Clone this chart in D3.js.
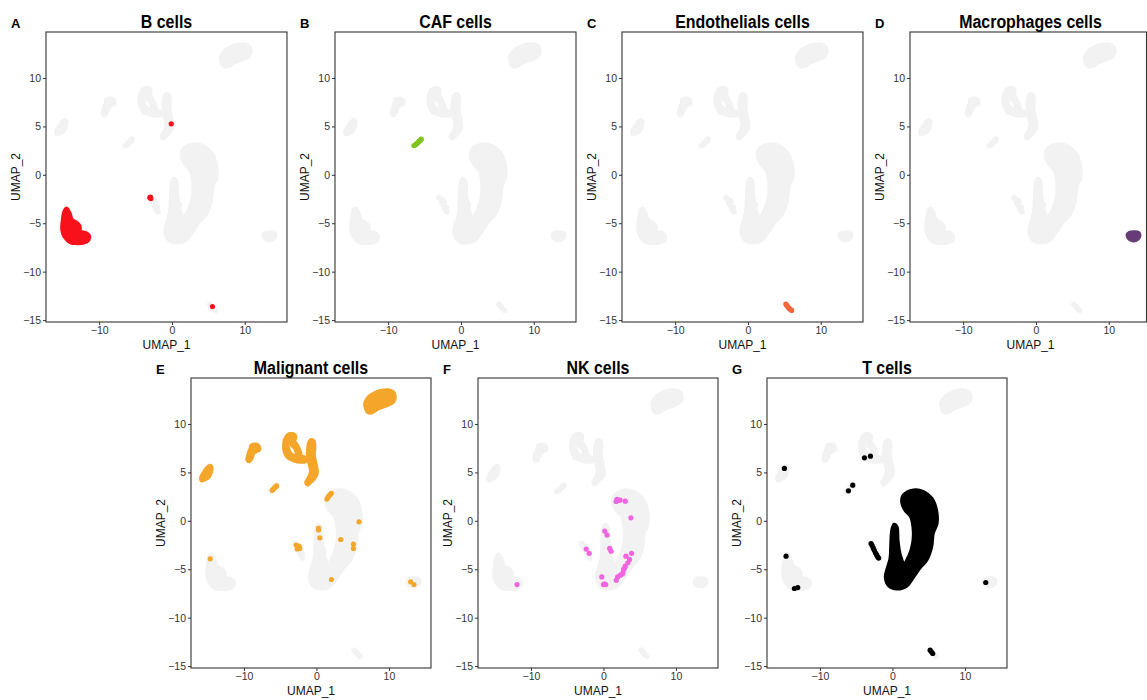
<!DOCTYPE html>
<html><head><meta charset="utf-8">
<script src="https://cdn.jsdelivr.net/npm/d3@7"></script>
<style>body{margin:0;background:#fff}</style></head>
<body>
<svg id="chart" width="1147" height="700"></svg>
<script>
// ---------- data (UMAP coordinates) ----------
const cellTypes = ["B cells","CAF cells","Endothelials cells","Macrophages cells","Malignant cells","NK cells","T cells"];
const panelLabels = ["A","B","C","D","E","F","G"];
const xTicks = [-10, 0, 10];
const yTicks = [-15, -10, -5, 0, 5, 10];
const xDomain = [-17.3, 15.8];
const yDomain = [-15.2, 14.75];

// dense regions (outlines of many overlapping cells)
const bCellBlobs = [
  [[-14.48,-3.44],[-14.02,-3.96],[-13.7,-4.65],[-13.02,-4.96],[-12.65,-5.3],[-12.56,-5.85],[-11.88,-5.96],[-11.35,-6.3],[-11.45,-6.75],[-12.1,-7.02],[-13.02,-7.08],[-13.93,-7.0],[-14.8,-6.37],[-15.1,-5.68],[-15.02,-4.65],[-14.8,-3.79]]
];
const bCellPoints = [[-0.1,5.27],[-3.05,-2.35],[-2.9,-2.45],[-2.95,-2.3],[5.56,-13.6]];

const cafBlobs = [];
const cafPoints = [[-6.45,3.02],[-6.3,3.08],[-6.15,3.18],[-6.0,3.28],[-5.85,3.38],[-5.7,3.5],[-5.55,3.6],[-5.45,3.68]];

const endoBlobs = [];
const endoPoints = [[5.2,-13.35],[5.3,-13.45],[5.4,-13.55],[5.55,-13.7],[5.7,-13.82],[5.85,-13.92],[6.0,-14.0]];

const macroBlobs = [
  [[12.55,-6.2],[12.9,-5.95],[13.5,-5.9],[14.05,-5.95],[14.25,-6.2],[14.1,-6.55],[13.6,-6.8],[13.1,-6.75],[12.65,-6.5]]
];
const macroPoints = [];

const malignantBlobs = [
  [[6.7,12.2],[7.2,12.8],[8.0,13.2],[9.0,13.45],[9.9,13.5],[10.6,13.3],[10.85,12.8],[10.6,12.25],[9.5,11.85],[8.5,11.55],[7.5,11.15],[7.0,11.25],[6.75,11.7]],
  [[-15.95,4.44],[-15.65,4.89],[-15.2,5.41],[-14.78,5.7],[-14.48,5.62],[-14.5,5.06],[-14.8,4.55],[-15.45,4.22],[-15.88,4.15]],
  [[-9.0,7.8],[-8.36,7.9],[-7.95,7.72],[-7.88,7.32],[-8.36,7.13],[-8.68,6.96],[-8.91,6.44],[-9.25,6.12],[-9.55,6.3],[-9.38,6.96],[-9.12,7.47]],
  [[-2.98,8.88],[-3.76,8.98],[-4.32,8.5],[-4.5,7.82],[-4.42,7.13],[-3.97,6.53],[-3.08,6.2],[-2.16,6.07],[-1.5,6.13],[-1.3,6.44],[-1.7,6.61],[-2.62,6.61],[-3.54,6.96],[-3.86,7.47],[-3.9,8.16],[-3.54,8.51],[-3.08,8.33],[-2.88,8.64]],
  [[-3.54,8.09],[-2.98,8.16],[-2.53,7.64],[-2.16,6.78],[-2.53,6.61],[-2.98,7.47],[-3.44,7.82]],
  [[-1.01,8.16],[-0.69,8.38],[-0.34,8.23],[-0.25,7.47],[-0.32,6.78],[-0.1,5.92],[0.1,5.06],[-0.1,4.55],[-0.69,4.05],[-1.22,3.72],[-1.45,3.96],[-1.01,4.55],[-0.78,5.13],[-1.01,5.92],[-1.22,6.78],[-1.15,7.64]]
];
const malignantPoints = [
  [-6.1,3.15],[-5.95,3.27],[-5.8,3.4],[-5.65,3.5],[-5.5,3.6],
  [1.45,2.25],[1.6,2.45],[1.75,2.6],[1.9,2.72],[2.05,2.85],
  [-14.65,-3.93],[5.88,-0.1],[0.28,-0.75],[0.3,-0.95],[0.46,-1.76],[3.35,-1.93],
  [-2.8,-2.5],[-2.4,-2.6],[-2.65,-2.9],[-2.3,-2.85],[5.1,-2.41],[5.1,-2.86],
  [2.07,-6.06],[12.99,-6.3],[13.45,-6.58]
];

const nkBlobs = [];
const nkPoints = [
  [1.87,2.21],[2.1,2.1],[1.75,2.0],[2.3,2.15],[3.01,2.03],[3.79,0.31],
  [0.18,-1.06],[0.5,-1.47],[0.87,-2.85],[1.05,-3.13],[-2.37,-2.92],[-1.96,-3.36],
  [3.88,-3.36],[3.1,-3.65],[3.6,-3.99],[3.38,-4.33],[3.01,-4.68],[2.78,-5.02],
  [2.69,-5.37],[2.33,-5.61],[2.6,-5.5],[2.9,-4.9],[1.96,-5.79],[1.78,-6.13],
  [-0.23,-5.79],[0.0,-6.58],[0.32,-6.58],[0.15,-6.5],[-11.92,-6.58]
];

const tCellBlobs = [
  [[1.52,2.65],[2.9,3.17],[4.28,3.0],[5.43,2.31],[6.05,1.11],[6.12,-0.27],[5.6,-1.3],[5.38,-2.68],[4.7,-4.06],[3.82,-4.81],[2.9,-5.79],[1.99,-6.7],[0.61,-7.02],[-0.5,-6.7],[-0.95,-5.79],[-0.65,-4.81],[-0.3,-3.89],[-0.2,-2.51],[-0.06,-0.96],[0.23,-0.38],[0.6,-0.62],[0.74,-2.0],[1.06,-3.54],[1.61,-4.4],[2.34,-3.54],[2.81,-2.34],[2.9,-0.96],[2.54,0.41],[1.75,1.11],[1.3,1.96]]
];
const tCellPoints = [
  [-2.95,-2.35],[-2.8,-2.55],[-2.65,-2.8],[-2.5,-3.05],[-2.35,-3.3],[-2.2,-3.5],[-2.05,-3.7],[-1.9,-3.85],
  [-14.9,5.41],[-3.86,6.51],[-3.03,6.68],[-6.07,3.1],[-5.47,3.68],[-14.67,-3.65],
  [-13.52,-6.99],[-13.06,-6.89],[12.87,-6.37],[5.2,-13.36],[5.4,-13.55],[5.56,-13.7]
];

const typeBlobs = [bCellBlobs, cafBlobs, endoBlobs, macroBlobs, malignantBlobs, nkBlobs, tCellBlobs];
const typePoints = [bCellPoints, cafPoints, endoPoints, macroPoints, malignantPoints, nkPoints, tCellPoints];
const typeColors = ["#f8111b", "#7fc31c", "#f4683f", "#673a78", "#f4a62a", "#f064e0", "#000000"];
const bgColor = "#f2f2f2";

// ---------- layout ----------
const panels = [
  {l:46, t:32, w:241, h:290},
  {l:335, t:32, w:241, h:290},
  {l:622, t:32, w:241, h:290},
  {l:910, t:32, w:241, h:290},
  {l:191, t:378, w:240, h:290},
  {l:478, t:378, w:240, h:290},
  {l:767, t:378, w:240, h:290}
];

const svg = d3.select("#chart");
const baseFont = "'Liberation Sans', Arial, Helvetica, sans-serif";
const R = 2.6;

panels.forEach((p, i) => {
  const x = d3.scaleLinear().domain(xDomain).range([p.l, p.l + p.w]);
  const y = d3.scaleLinear().domain(yDomain).range([p.t + p.h, p.t]);
  const g = svg.append("g");
  const clipId = "clip" + i;
  const cw = Math.min(p.w, 1146.5 - p.l);
  svg.append("clipPath").attr("id", clipId)
    .append("rect").attr("x", p.l).attr("y", p.t).attr("width", cw).attr("height", p.h);
  const plot = g.append("g").attr("clip-path", `url(#${clipId})`);
  const line = d3.line().x(d => x(d[0])).y(d => y(d[1])).curve(d3.curveCatmullRomClosed.alpha(0.5));

  function drawType(j, color) {
    plot.append("g").selectAll("path").data(typeBlobs[j]).join("path")
      .attr("d", line).attr("fill", color).attr("stroke", color)
      .attr("stroke-width", 3.5).attr("stroke-linejoin", "round");
    plot.append("g").selectAll("circle").data(typePoints[j]).join("circle")
      .attr("cx", d => x(d[0])).attr("cy", d => y(d[1])).attr("r", R).attr("fill", color);
  }
  // all cells in grey
  cellTypes.forEach((_, j) => drawType(j, bgColor));
  // highlighted cell type
  drawType(i, typeColors[i]);

  // border
  g.append("rect").attr("x", p.l).attr("y", p.t).attr("width", cw).attr("height", p.h)
    .attr("fill", "none").attr("stroke", "#333").attr("stroke-width", 1.1);

  // axes
  const ax = g.append("g").attr("transform", `translate(0,${p.t + p.h})`)
    .call(d3.axisBottom(x).tickValues(xTicks).tickSize(3).tickPadding(2));
  const ay = g.append("g").attr("transform", `translate(${p.l},0)`)
    .call(d3.axisLeft(y).tickValues(yTicks).tickSize(3).tickPadding(2));
  [ax, ay].forEach(a => {
    a.select(".domain").remove();
    a.selectAll("line").attr("stroke", "#333");
    a.selectAll("text").attr("fill", "#333").attr("font-size", 10.5).attr("font-family", baseFont);
  });

  // axis titles
  g.append("text").attr("x", p.l + p.w / 2).attr("y", p.t + p.h + 27)
    .attr("text-anchor", "middle").attr("font-family", baseFont).attr("font-size", 12)
    .attr("fill", "#111").text("UMAP_1");
  g.append("text").attr("transform", `translate(${p.l - 26},${p.t + p.h / 2}) rotate(-90)`)
    .attr("text-anchor", "middle").attr("font-family", baseFont).attr("font-size", 12)
    .attr("fill", "#111").text("UMAP_2");

  // title (condensed bold)
  g.append("text").attr("transform", `translate(${p.l + p.w / 2},${p.t - 4}) scale(0.84,1)`)
    .attr("text-anchor", "middle").attr("font-family", baseFont)
    .attr("font-weight", "bold").attr("font-size", 19).attr("fill", "#000")
    .text(cellTypes[i]);
  // panel tag
  g.append("text").attr("x", p.l - 35).attr("y", p.t - 4)
    .attr("font-family", baseFont).attr("font-weight", "bold").attr("font-size", 13)
    .attr("fill", "#000").text(panelLabels[i]);
});
</script>
</body></html>
